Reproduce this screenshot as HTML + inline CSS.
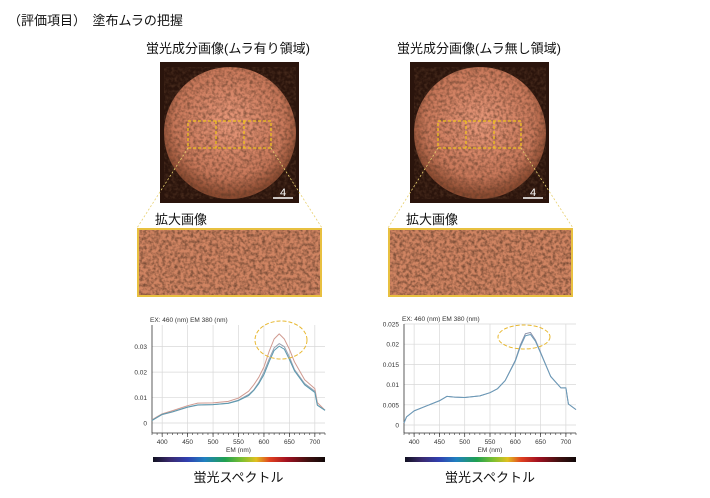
<!DOCTYPE html>
<html><head><meta charset="utf-8">
<style>
body{margin:0;width:710px;height:498px;background:#fff;overflow:hidden;font-family:"Liberation Sans","Noto Sans CJK JP",sans-serif;}
svg{position:absolute;left:0;top:0;}
</style></head>
<body>
<svg width="710" height="498" viewBox="0 0 710 498">
<defs>
<filter id="noise" x="0" y="0" width="100%" height="100%">
<feTurbulence type="fractalNoise" baseFrequency="0.32" numOctaves="2" seed="3"/>
<feColorMatrix type="matrix" values="0 0 0 0 0.1  0 0 0 0 0.04  0 0 0 0 0.02  0 0 0 -2.2 1.4"/>
</filter>
<radialGradient id="glow" cx="0.5" cy="0.42" r="0.55">
<stop offset="0" stop-color="#e8987a"/><stop offset="0.75" stop-color="#c8785a"/><stop offset="1" stop-color="#8a4a30"/>
</radialGradient>
<linearGradient id="spec" x1="0" x2="1">
<stop offset="0" stop-color="#111122"/><stop offset="0.1" stop-color="#3a2a70"/><stop offset="0.2" stop-color="#3040b0"/><stop offset="0.3" stop-color="#2080c0"/><stop offset="0.42" stop-color="#20a050"/><stop offset="0.52" stop-color="#80c030"/><stop offset="0.6" stop-color="#e0c020"/><stop offset="0.68" stop-color="#e04020"/><stop offset="0.78" stop-color="#a01020"/><stop offset="0.9" stop-color="#401010"/><stop offset="1" stop-color="#100808"/>
</linearGradient>
</defs>
<text x="8" y="25" font-size="13" fill="#111">（評価項目）　塗布ムラの把握</text>
<text x="228" y="53" font-size="13" text-anchor="middle" fill="#111">蛍光成分画像(ムラ有り領域)</text>
<text x="479" y="53" font-size="13" text-anchor="middle" fill="#111">蛍光成分画像(ムラ無し領域)</text>
<g id="panels"></g>
<g id="charts"></g>
</svg>
<script>
// Left chart data (ムラ有り)
const leftWl=[380,390,400,420,450,470,500,530,550,570,580,590,600,610,620,630,640,650,660,680,700,705,720];
const leftA=[0.0012,0.0025,0.0036,0.0048,0.0068,0.0078,0.0079,0.0085,0.0098,0.0125,0.015,0.018,0.022,0.028,0.033,0.035,0.033,0.029,0.024,0.017,0.0135,0.008,0.005];
const leftB=[0.0010,0.0022,0.0033,0.0043,0.0062,0.0070,0.0072,0.0078,0.0090,0.0112,0.013,0.016,0.020,0.025,0.0295,0.0312,0.030,0.026,0.021,0.0155,0.0125,0.007,0.005];
const leftC=[0.0010,0.0022,0.0034,0.0044,0.0063,0.0071,0.0072,0.0077,0.0088,0.0108,0.0128,0.0155,0.019,0.024,0.0285,0.0302,0.029,0.025,0.0205,0.015,0.012,0.007,0.005];
const leftTicksY=[0,0.01,0.02,0.03];
// Right chart data (ムラ無し)
const rightWl=[380,385,400,420,450,465,480,500,530,550,565,580,600,610,620,630,640,650,670,690,700,705,720];
const rightA=[0.0005,0.002,0.0035,0.0045,0.006,0.0071,0.0069,0.0068,0.0072,0.008,0.009,0.011,0.016,0.0198,0.0226,0.0229,0.021,0.018,0.012,0.0092,0.0092,0.0052,0.0038];
const rightB=[0.0005,0.002,0.0035,0.0045,0.006,0.0071,0.0069,0.0068,0.0072,0.008,0.009,0.011,0.0158,0.0194,0.0221,0.0224,0.0207,0.0178,0.012,0.0092,0.0092,0.0052,0.0038];
const rightTicksY=[0,0.005,0.01,0.015,0.02,0.025];
const ticksX=[400,450,500,550,600,650,700];

const NS="http://www.w3.org/2000/svg";
function mk(tag,attrs,parent){const e=document.createElementNS(NS,tag);for(const k in attrs)e.setAttribute(k,attrs[k]);parent.appendChild(e);return e;}
const panels=document.getElementById('panels');
const charts=document.getElementById('charts');

function panel(ox,zx,side){
  const g=mk('g',{},panels);
  
  
  mk('rect',{x:ox,y:62,width:139,height:141,fill:'#2a140c'},g);
  mk('circle',{cx:ox+70,cy:133,r:66,fill:'url(#glow)'},g);
  mk('circle',{cx:ox+70,cy:133,r:66,fill:'#000',filter:'url(#noise)',opacity:0.6},g);
  mk('rect',{x:ox+28,y:121,width:83,height:27,fill:'none',stroke:'#f0c020','stroke-width':1.3,'stroke-dasharray':'3,2'},g);
  mk('line',{x1:ox+56,y1:121,x2:ox+56,y2:148,stroke:'#f0c020','stroke-width':1.3,'stroke-dasharray':'3,2'},g);
  mk('line',{x1:ox+84,y1:121,x2:ox+84,y2:148,stroke:'#f0c020','stroke-width':1.3,'stroke-dasharray':'3,2'},g);
  mk('line',{x1:ox+113,y1:198,x2:ox+133,y2:198,stroke:'#fff','stroke-width':1.5},g);
  const t=mk('text',{x:ox+123,y:196,'font-size':11,fill:'#fff','text-anchor':'middle'},g);t.textContent='4';
  mk('line',{x1:ox+28,y1:148,x2:zx,y2:228,stroke:'#e8d070','stroke-width':0.8,'stroke-dasharray':'2,2'},g);
  mk('line',{x1:ox+111,y1:148,x2:zx+185,y2:228,stroke:'#e8d070','stroke-width':0.8,'stroke-dasharray':'2,2'},g);
  const l=mk('text',{x:zx+18,y:224,'font-size':13,fill:'#111'},g);l.textContent='拡大画像';
  
  
  mk('rect',{x:zx,y:228,width:185,height:69,fill:'#d08462'},g);
  mk('rect',{x:zx,y:228,width:185,height:69,fill:'#000',filter:'url(#noise)',opacity:0.7},g);
  mk('rect',{x:zx+1,y:229,width:183,height:67,fill:'none',stroke:'#e8c040','stroke-width':2},g);
}
panel(160,137,'left');
panel(410,388,'right');

function chart(side,x0,x1,y0,yTop,yMaxVal,ticksY,wl,series,colors,fmt){
  const g=mk('g',{},charts);
  
  
  const yb=433;
  const sx=v=>x0+(v-380)/(720-380)*(x1-x0);
  const sy=v=>y0-v/yMaxVal*(y0-yTop);
  const h=mk('text',{x:x0-2,y:yTop-3,'font-size':6.5,fill:'#333'},g);h.textContent='EX: 460 (nm) EM 380 (nm)';
  ticksY.forEach(t=>{
    mk('line',{x1:x0,y1:sy(t),x2:x1,y2:sy(t),stroke:'#d8d8d8','stroke-width':0.7},g);
    const tx=mk('text',{x:x0-5,y:sy(t)+2.5,'font-size':6.5,fill:'#333','text-anchor':'end'},g);tx.textContent=fmt(t);
  });
  ticksX.forEach(t=>{
    mk('line',{x1:sx(t),y1:yTop,x2:sx(t),y2:yb,stroke:'#d8d8d8','stroke-width':0.7},g);
    mk('line',{x1:sx(t),y1:yb,x2:sx(t),y2:yb+4,stroke:'#333','stroke-width':0.7},g);
    const tx=mk('text',{x:sx(t),y:yb+11,'font-size':6.5,fill:'#333','text-anchor':'middle'},g);tx.textContent=t;
  });
  for(let v=380;v<=720;v+=10){mk('line',{x1:sx(v),y1:yb,x2:sx(v),y2:yb+2,stroke:'#333','stroke-width':0.6},g);}
  mk('line',{x1:x0,y1:yTop,x2:x0,y2:yb,stroke:'#333','stroke-width':0.8},g);
  mk('line',{x1:x0,y1:yb,x2:x1,y2:yb,stroke:'#333','stroke-width':0.8},g);
  const xl=mk('text',{x:(x0+x1)/2,y:yb+19,'font-size':6.5,fill:'#333','text-anchor':'middle'},g);xl.textContent='EM (nm)';
  series.forEach((s,i)=>{
    const p=mk('polyline',{points:wl.map((w,j)=>sx(w)+','+sy(s[j])).join(' '),fill:'none',stroke:colors[i],'stroke-width':1,'stroke-linejoin':'round'},g);
    
    
  });
  mk('rect',{x:x0+1,y:457,width:x1-x0-1,height:5,fill:'url(#spec)'},g);
  const st=mk('text',{x:(x0+x1)/2,y:482,'font-size':13,fill:'#111','text-anchor':'middle'},g);st.textContent='蛍光スペクトル';
  
  
  return {sx,sy,g};
}
const L=chart('left',152,325,423,325,0.0385,leftTicksY,leftWl,[leftA,leftB,leftC],['#d09a90','#9aa0b0','#5a9ab0'],t=>t===0?'0':t.toFixed(2));
mk('ellipse',{cx:281,cy:340,rx:26,ry:19,fill:'none',stroke:'#e8b830','stroke-width':1,'stroke-dasharray':'4,2'},L.g);
const R=chart('right',404,576,425,324,0.025,rightTicksY,rightWl,[rightA,rightB],['#8a90a8','#6a9ab8'],t=>t===0?'0':String(+t.toFixed(3)));
mk('ellipse',{cx:524,cy:337,rx:26,ry:12,fill:'none',stroke:'#e8b830','stroke-width':1,'stroke-dasharray':'4,2'},R.g);
</script>
</body></html>
